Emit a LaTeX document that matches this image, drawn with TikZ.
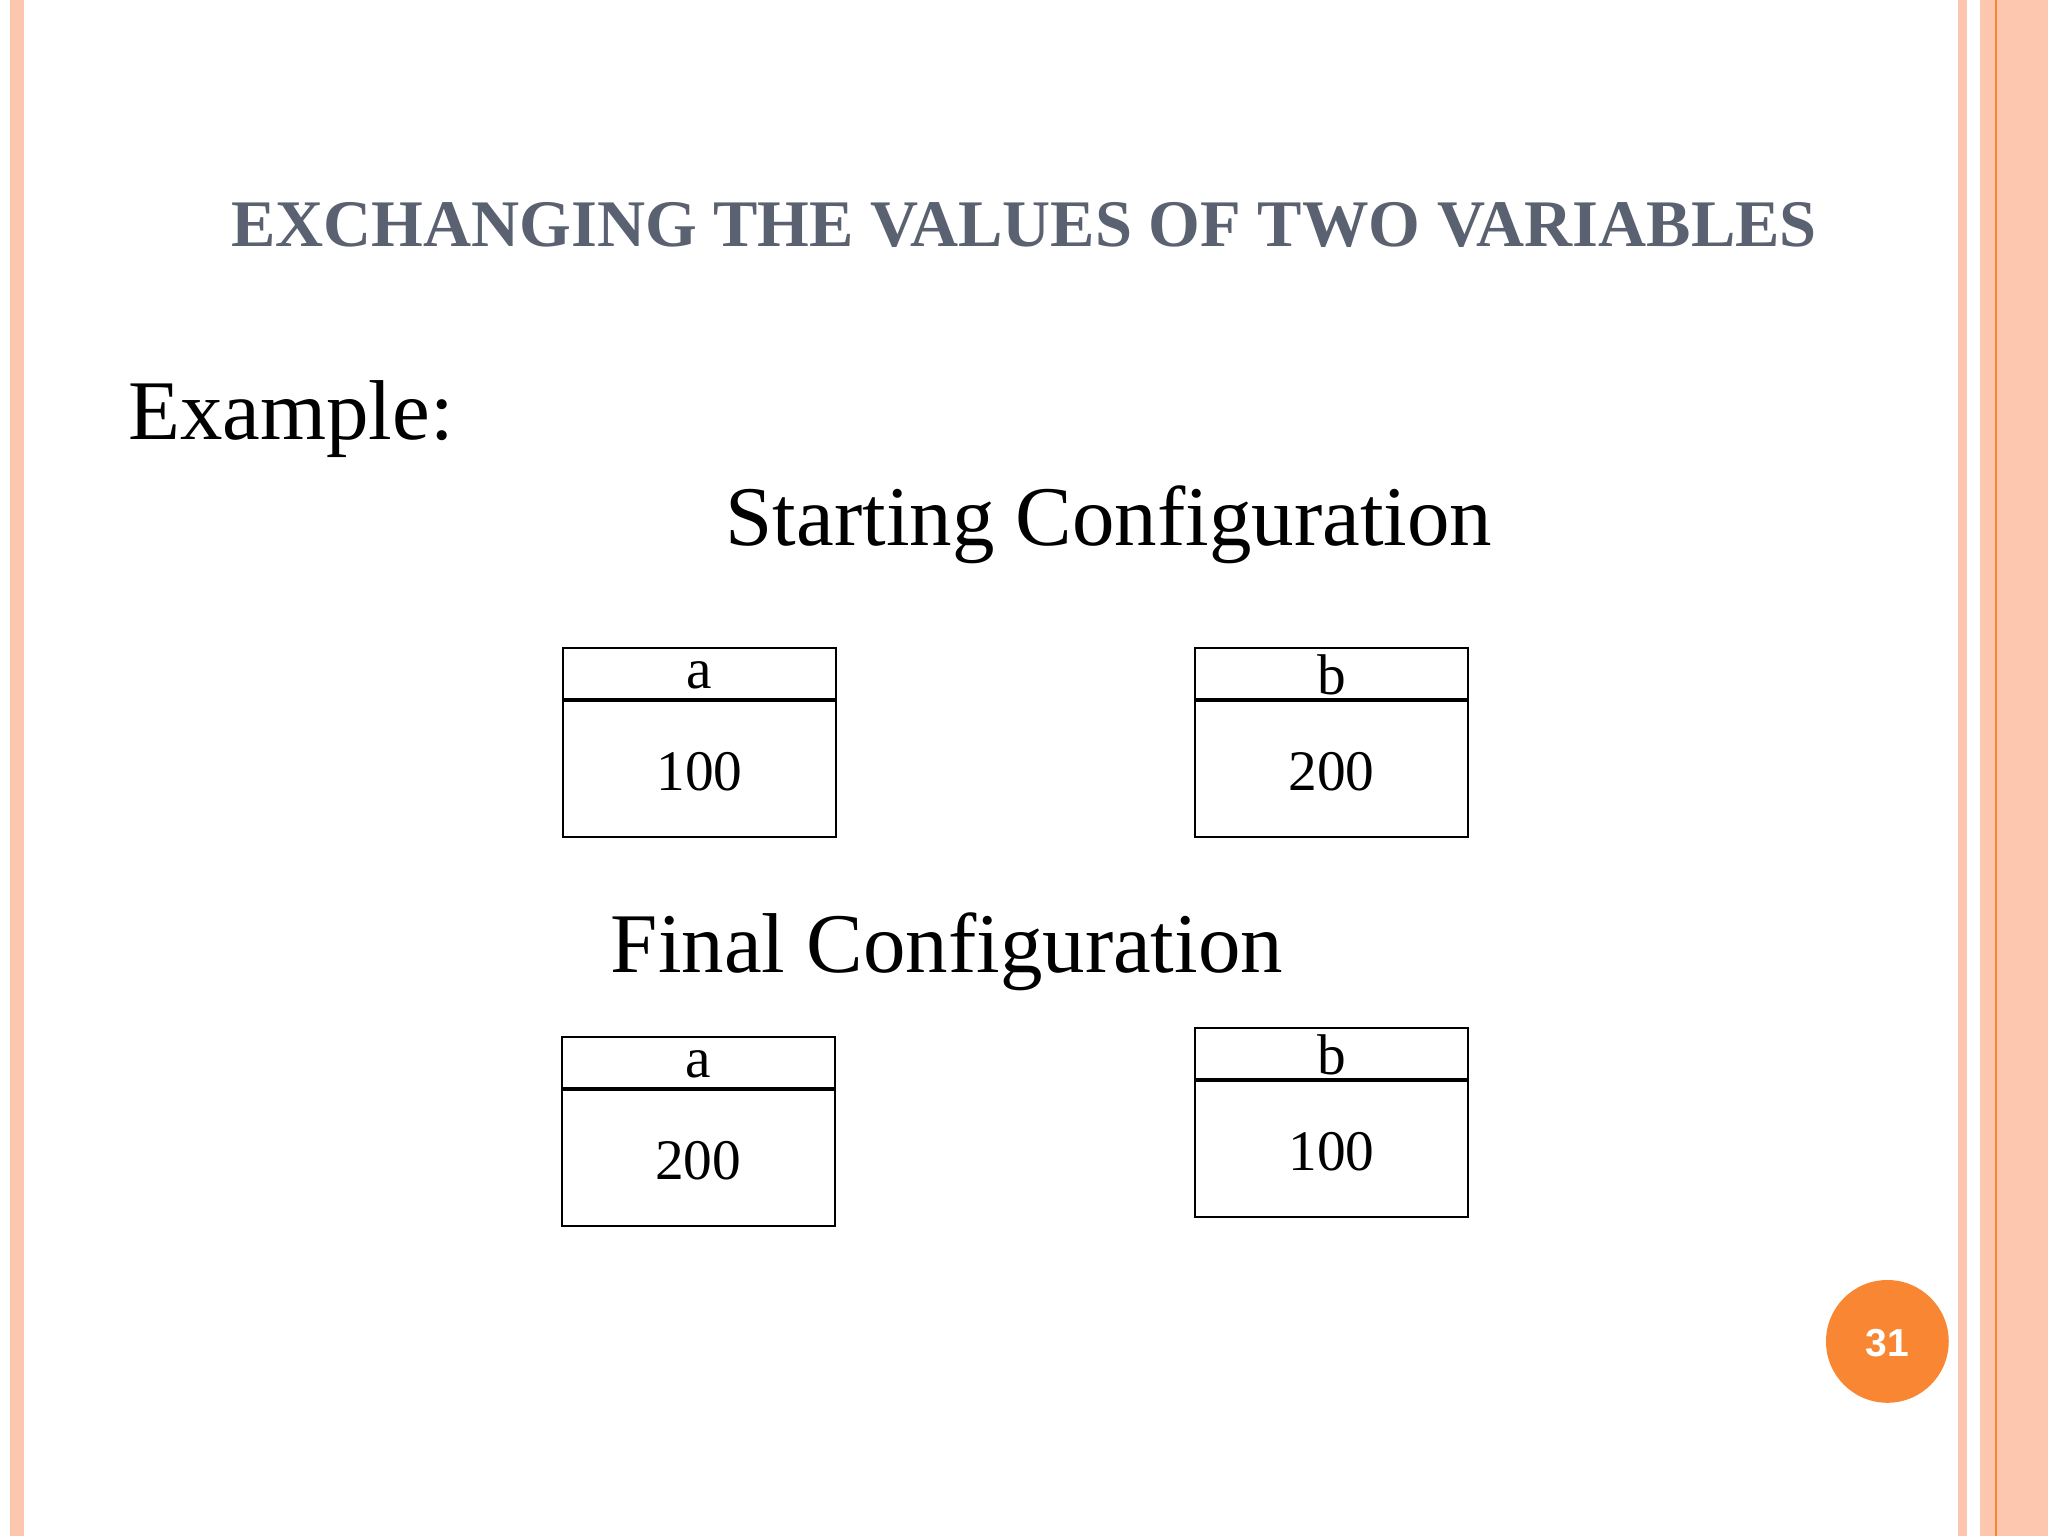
\documentclass[tikz,border=0pt]{standalone}
\usepackage{tikz}
\usepackage{xcolor}
\usepackage{fontspec}
\setmainfont{Liberation Serif}
\newfontfamily\numfont{Liberation Sans}
\definecolor{stripe}{HTML}{FCC7AE}
\definecolor{titlegray}{HTML}{5A6170}
\definecolor{badge}{HTML}{F98632}

\tikzset{
    varbox/.style={draw=black, line width=0.9pt},
    boxtext/.style={font=\fontsize{25}{25}\selectfont, anchor=center}
}

\begin{document}
\begin{tikzpicture}[x=0.02cm, y=-0.02cm]
    \useasboundingbox (0,0) rectangle (1568,1176);
    \fill[white] (0,0) rectangle (1568,1176);

    % borders
    \fill[stripe] (8,0) rectangle (18,1176);
    \fill[stripe] (1499,0) rectangle (1506,1176);
    \fill[stripe] (1516,0) rectangle (1568,1176);
    \draw[badge, line width=1pt] (1528,0) -- (1528,1176);

    \node[font=\fontsize{29}{29}\selectfont\bfseries, text=titlegray] (title) at (784,172) {EXCHANGING THE VALUES OF TWO VARIABLES};
    \node[font=\fontsize{37}{37}\selectfont, anchor=west] (example) at (92,321) {Example:};
    \node[font=\fontsize{37}{37}\selectfont] (start) at (849,402) {Starting Configuration};
    \node[font=\fontsize{37}{37}\selectfont] (final) at (725,729) {Final Configuration};

    % variable boxes
    \foreach \name/\x/\y/\val in {a/431/496/100, b/915/496/200, a/430/794/200, b/915/787/100} {
        \draw[varbox] (\x,\y) rectangle ++(209,145);
        \draw[line width=1.6pt] (\x,\y+40) -- ++(209,0);
        \node[boxtext] at (\x+104.5,\y+21) {\name};
        \node[boxtext] at (\x+104.5,\y+95) {\val};
    }

    \fill[badge] (1445,1027) circle (47);
    \node[text=white, font=\numfont\fontsize{17}{17}\selectfont\bfseries] (page) at (1445,1028) {31};
\end{tikzpicture}
\end{document}
